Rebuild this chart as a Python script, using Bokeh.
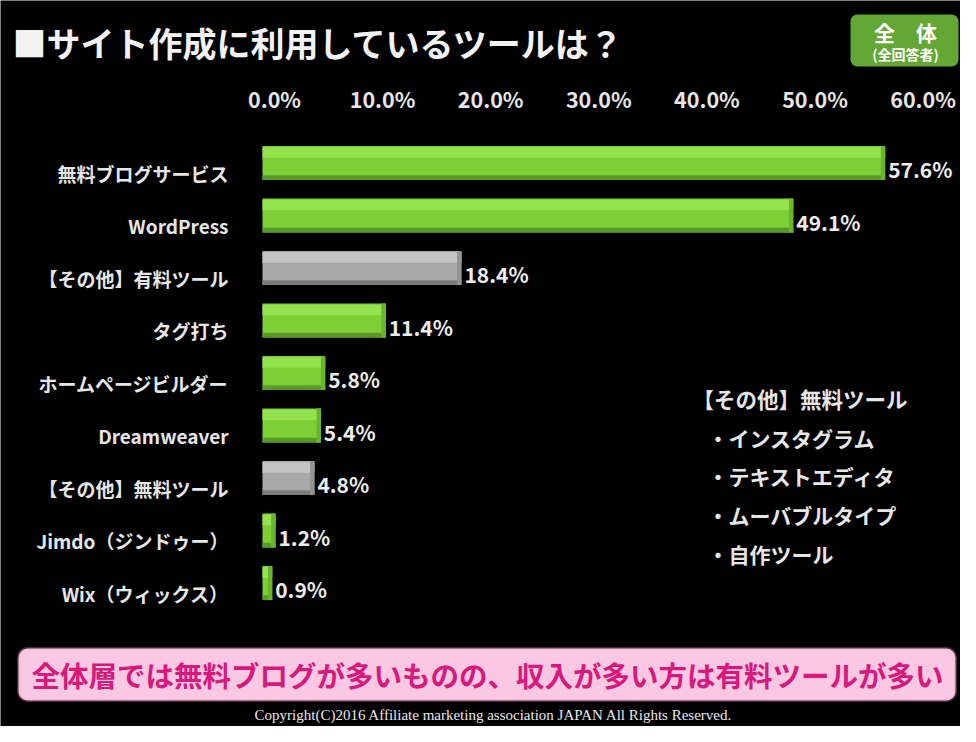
from bokeh.plotting import figure
from bokeh.models import Range1d, Label, BoxAnnotation, ColumnDataSource
from bokeh.core.properties import value
from bokeh.embed import file_html
from bokeh.resources import INLINE

# ---- data ----
categories = ["無料ブログサービス", "WordPress", "【その他】有料ツール", "タグ打ち",
              "ホームページビルダー", "Dreamweaver", "【その他】無料ツール",
              "Jimdo（ジンドゥー）", "Wix（ウィックス）"]
values = [57.6, 49.1, 18.4, 11.4, 5.8, 5.4, 4.8, 1.2, 0.9]
tick_values = [0, 10, 20, 30, 40, 50, 60]
tick_labels = ["0.0%", "10.0%", "20.0%", "30.0%", "40.0%", "50.0%", "60.0%"]
title_text = "■サイト作成に利用しているツールは？"
badge_lines = ["全　体", "(全回答者)"]
note_title = "【その他】無料ツール"
note_items = ["・インスタグラム", "・テキストエディタ", "・ムーバブルタイプ", "・自作ツール"]
summary_text = "全体層では無料ブログが多いものの、収入が多い方は有料ツールが多い"
copyright_text = "Copyright(C)2016  Affiliate marketing association JAPAN  All Rights Reserved."

JP = "Noto Sans CJK JP"
W, H = 960, 726
X0, SX = 262.0, 10.81   # px of 0%, px per %
Y0, SY = 162.5, 52.5    # px of row 0, px per row

def dx(rx):
    return (rx - X0) / SX

def dy(ry):
    return (ry - Y0) / SY

p = figure(width=W, height=H, output_backend="svg", toolbar_location=None,
           x_range=Range1d(-X0 / SX, (W - X0) / SX),
           y_range=Range1d((H - Y0) / SY, -Y0 / SY),
           x_axis_location=None, y_axis_location=None,
           min_border=0, background_fill_color="black",
           border_fill_color="black", outline_line_color=None)
p.grid.visible = False

rows = list(range(len(categories)))
gray = [c.startswith("【その他】") for c in categories]
face = ["#a9a9a9" if g else "#7dcf36" for g in gray]
light = ["#c4c4c4" if g else "#95e24f" for g in gray]
dark = ["#7c7c7c" if g else "#58992a" for g in gray]
cap = ["#939393" if g else "#69b52e" for g in gray]

src = ColumnDataSource(dict(y=rows, v=values, cat=categories,
                            lab=[f"{v:.1f}%" for v in values],
                            face=face, light=light, dark=dark, cap=cap,
                            ytop=[r - 0.2 for r in rows],
                            ybot=[r + 0.28 for r in rows],
                            capl=[max(v - 0.4, 0) for v in values]))

p.hbar(y="y", left=0, right="v", height=0.65, fill_color="face", line_color=None, source=src)
p.hbar(y="ytop", left=0, right="v", height=0.2, fill_color="light", line_color=None, source=src)
p.hbar(y="ybot", left=0, right="v", height=0.09, fill_color="dark", line_color=None, source=src)
p.hbar(y="y", left="capl", right="v", height=0.65, fill_color="cap", line_color=None, source=src)

# category labels
p.text(x=0, y="y", text="cat", source=src, x_offset=-34, y_offset=10,
       text_align="right", text_baseline="middle", text_color="#e6e6e6",
       text_font=value(JP), text_font_size="19px", text_font_style="bold")
# value labels
p.text(x="v", y="y", text="lab", source=src, x_offset=3, y_offset=6,
       text_align="left", text_baseline="middle", text_color="#ececec",
       text_font=value(JP), text_font_size="21px", text_font_style="bold")

# tick labels on top
tsrc = ColumnDataSource(dict(x=tick_values, y=[dy(97.5)] * len(tick_values), t=tick_labels))
p.text(x="x", y="y", text="t", source=tsrc, x_offset=12,
       text_align="center", text_baseline="middle", text_color="#e6e6e6",
       text_font=value(JP), text_font_size="21.5px", text_font_style="bold")

# title
p.add_layout(Label(x=dx(12), y=dy(42), text=title_text, text_color="#f2f2f2",
                   text_font=JP, text_font_size="34px", text_font_style="bold",
                   text_align="left", text_baseline="middle"))

# badge
p.add_layout(BoxAnnotation(left=dx(850), right=dx(958), top=dy(14), bottom=dy(66),
                           fill_color="#63a834", fill_alpha=1, line_color=None,
                           border_radius=7))
p.add_layout(Label(x=dx(905), y=dy(31), text=badge_lines[0], text_color="white",
                   text_font=JP, text_font_size="21px", text_font_style="bold",
                   text_align="center", text_baseline="middle"))
p.add_layout(Label(x=dx(905), y=dy(53), text=badge_lines[1], text_color="white",
                   text_font=JP, text_font_size="14px", text_font_style="bold",
                   text_align="center", text_baseline="middle"))

# note
p.add_layout(Label(x=dx(692), y=dy(398), text=note_title, text_color="#e6e6e6",
                   text_font=JP, text_font_size="21.5px", text_font_style="bold",
                   text_align="left", text_baseline="middle"))
for i, item in enumerate(note_items):
    p.add_layout(Label(x=dx(707), y=dy(437 + 38.7 * i), text=item, text_color="#e6e6e6",
                       text_font=JP, text_font_size="21px", text_font_style="bold",
                       text_align="left", text_baseline="middle"))

# summary box
p.add_layout(BoxAnnotation(left=dx(18), right=dx(955), top=dy(648), bottom=dy(700),
                           fill_color="#fac8e2", fill_alpha=1, line_color="#e79cc6",
                           line_width=3, border_radius=9))
p.add_layout(Label(x=dx(487), y=dy(674), text=summary_text, text_color="#d7197c",
                   text_font=JP, text_font_size="28.5px", text_font_style="bold",
                   text_align="center", text_baseline="middle"))

# copyright
p.add_layout(Label(x=dx(497), y=dy(714), text=copyright_text, text_color="#e8e8e8",
                   text_font="Liberation Serif", text_font_size="15px",
                   text_align="center", text_baseline="middle"))

open("out.html", "w").write(file_html(p, INLINE))
